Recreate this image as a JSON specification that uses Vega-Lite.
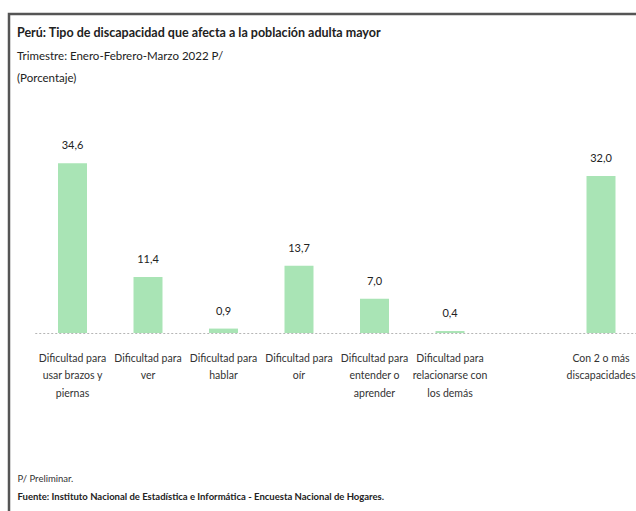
{
  "$schema": "https://vega.github.io/schema/vega-lite/v6.json",
  "width": 631,
  "height": 501,
  "autosize": {"type": "none"},
  "padding": {"left": 9, "top": 14, "right": -4, "bottom": -4},
  "background": "white",
  "config": {
    "locale": {"number": {"decimal": ",", "thousands": ".", "grouping": [3], "currency": ["", ""]}},
    "view": {"stroke": "#555555", "strokeWidth": 2.5},
    "font": "Lato"
  },
  "title": {
    "text": "Perú: Tipo de discapacidad que afecta a la población adulta mayor",
    "subtitle": ["Trimestre: Enero-Febrero-Marzo 2022 P/", "(Porcentaje)"],
    "anchor": "start",
    "frame": "group",
    "dx": 8,
    "offset": -70,
    "font": "Lato",
    "fontSize": 12.5,
    "fontWeight": "bold",
    "color": "#222222",
    "subtitleFont": "Lato",
    "subtitleFontSize": 11.5,
    "subtitleColor": "#222222",
    "subtitleLineHeight": 22,
    "subtitlePadding": 11
  },
  "data": {
    "values": [
      {"categoria": "Dificultad para\nusar brazos y\npiernas", "valor": 34.6},
      {"categoria": "Dificultad para\nver", "valor": 11.4},
      {"categoria": "Dificultad para\nhablar", "valor": 0.9},
      {"categoria": "Dificultad para\noír", "valor": 13.7},
      {"categoria": "Dificultad para\nentender o\naprender", "valor": 7.0},
      {"categoria": "Dificultad para\nrelacionarse con\nlos demás", "valor": 0.4},
      {"categoria": "Con 2 o más\ndiscapacidades", "valor": 32.0}
    ]
  },
  "layer": [
    {
      "mark": {"type": "bar", "color": "#a9e4b5"},
      "encoding": {
        "x": {
          "field": "categoria", "type": "nominal", "sort": null,
          "scale": {
            "domain": ["Dificultad para\nusar brazos y\npiernas", "Dificultad para\nver", "Dificultad para\nhablar", "Dificultad para\noír", "Dificultad para\nentender o\naprender", "Dificultad para\nrelacionarse con\nlos demás", "", "Con 2 o más\ndiscapacidades"],
            "range": [25.75, 629.75],
            "paddingInner": 0.616,
            "paddingOuter": 0.308
          },
          "axis": {
            "orient": "bottom",
            "offset": -182,
            "title": "P/ Preliminar.",
            "titleX": 8,
            "titleY": 148,
            "titleAlign": "left",
            "titleAnchor": "start",
            "titleBaseline": "alphabetic",
            "titleFont": "Lato",
            "titleFontSize": 9.5,
            "titleFontWeight": "normal",
            "titleColor": "#333333",
            "labelAngle": 0,
            "labelExpr": "split(datum.value, '\\n')",
            "labelFont": "Lato",
            "labelFontSize": 10.5,
            "labelColor": "#333333",
            "labelLineHeight": 17.5,
            "labelPadding": 20,
            "labelBaseline": "top",
            "labelLimit": 0,
            "ticks": false,
            "grid": false,
            "domainColor": "#b5b5b5",
            "domainDash": [2, 2],
            "domainWidth": 1
          }
        },
        "y": {
          "field": "valor", "type": "quantitative",
          "scale": {"domain": [0, 64.4], "range": [319, 0]},
          "axis": null
        }
      }
    },
    {
      "mark": {"type": "text", "dy": -14, "baseline": "alphabetic", "font": "Lato", "fontSize": 11, "color": "#222222"},
      "encoding": {
        "x": {
          "field": "categoria", "type": "nominal", "sort": null,
          "scale": {
            "domain": ["Dificultad para\nusar brazos y\npiernas", "Dificultad para\nver", "Dificultad para\nhablar", "Dificultad para\noír", "Dificultad para\nentender o\naprender", "Dificultad para\nrelacionarse con\nlos demás", "", "Con 2 o más\ndiscapacidades"],
            "range": [25.75, 629.75],
            "paddingInner": 0.616,
            "paddingOuter": 0.308
          },
          "axis": {
            "orient": "bottom",
            "offset": -182,
            "title": "Fuente: Instituto Nacional de Estadística e Informática - Encuesta Nacional de Hogares.",
            "titleX": 8,
            "titleY": 166,
            "titleAlign": "left",
            "titleAnchor": "start",
            "titleBaseline": "alphabetic",
            "titleFont": "Lato",
            "titleFontSize": 9.5,
            "titleFontWeight": "bold",
            "titleColor": "#222222",
            "labels": false,
            "ticks": false,
            "domain": false,
            "grid": false
          }
        },
        "y": {"field": "valor", "type": "quantitative"},
        "text": {"field": "valor", "type": "quantitative", "format": ".1f"}
      }
    }
  ],
  "resolve": {"axis": {"x": "independent"}}
}
